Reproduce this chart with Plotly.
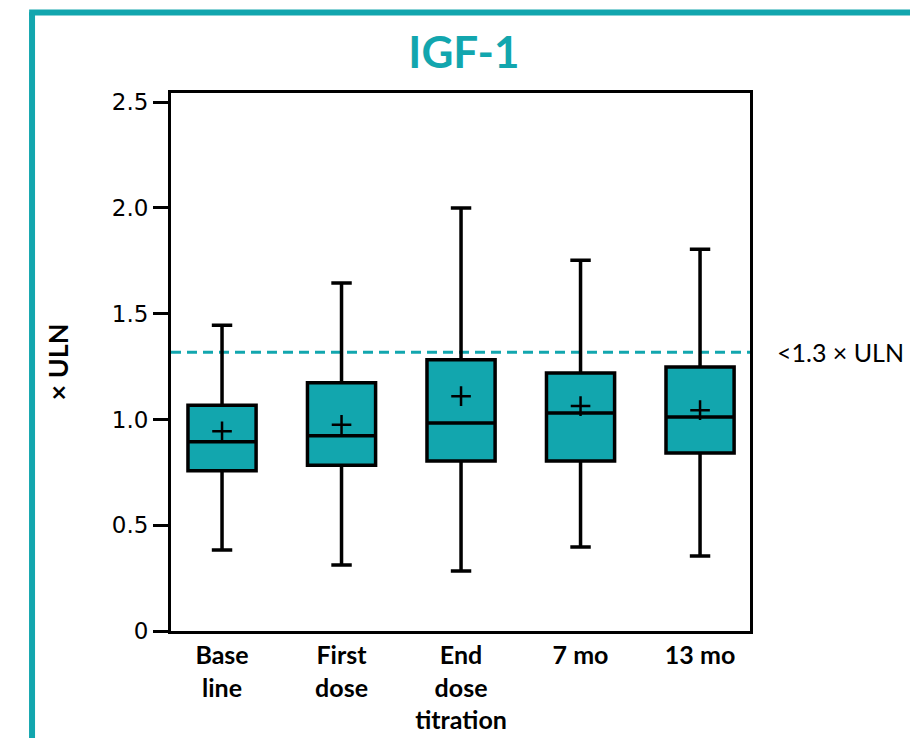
import plotly.graph_objects as go

categories = ["Base<br>line", "First<br>dose", "End<br>dose<br>titration", "7 mo", "13 mo"]
q1 = [0.757, 0.784, 0.803, 0.803, 0.841]
median = [0.895, 0.923, 0.983, 1.030, 1.011]
q3 = [1.067, 1.174, 1.282, 1.219, 1.248]
lower = [0.383, 0.312, 0.284, 0.397, 0.354]
upper = [1.445, 1.645, 2.000, 1.753, 1.805]
means = [0.944, 0.975, 1.110, 1.063, 1.044]
threshold = 1.317
threshold_label = "<1.3 × ULN"
yticks = [0, 0.5, 1.0, 1.5, 2.0, 2.5]
yticklabels = ["0", "0.5", "1.0", "1.5", "2.0", "2.5"]

TEAL = "#12A6AE"
FONT = "Lato, Open Sans, Arial"
xs = list(range(len(categories)))

fig = go.Figure()
fig.add_trace(go.Box(
    x=xs, q1=q1, median=median, q3=q3, lowerfence=lower, upperfence=upper,
    fillcolor=TEAL, line=dict(color="black", width=3.5), width=0.57,
    whiskerwidth=0.3, boxpoints=False, hoverinfo="skip", showlegend=False,
))
fig.add_trace(go.Scatter(
    x=xs, y=means, mode="markers",
    marker=dict(symbol="cross-thin", size=14, line=dict(color="black", width=2.5)),
    showlegend=False, hoverinfo="skip",
))

fig.add_shape(type="line", xref="paper", yref="y", x0=0, x1=1, y0=threshold, y1=threshold,
              line=dict(color=TEAL, width=3, dash="10px,6px"), layer="below")
# outer teal frame
fig.add_shape(type="line", xref="paper", yref="paper", x0=-0.240, x1=-0.240, y0=1.15, y1=-0.3,
              line=dict(color=TEAL, width=6))
fig.add_shape(type="line", xref="paper", yref="paper", x0=-0.245, x1=1.35, y0=1.1496, y1=1.1496,
              line=dict(color=TEAL, width=6))

fig.add_annotation(xref="paper", yref="y", x=1.043, y=threshold, text=threshold_label,
                   showarrow=False, xanchor="left", yanchor="middle",
                   font=dict(family=FONT, size=25, color="black"))

fig.update_layout(
    width=918, height=738,
    margin=dict(l=163, r=176, t=85, b=115),
    paper_bgcolor="white", plot_bgcolor="white",
    title=dict(text="<b>IGF-1</b>", x=0.506, xref="paper", xanchor="center", y=0.939, yanchor="middle",
               font=dict(family=FONT, size=44, color=TEAL)),
    xaxis=dict(range=[-0.427, 4.418], tickmode="array", tickvals=xs, ticktext=[f"<b>{c}</b>" for c in categories],
               showline=True, linecolor="black", linewidth=3, mirror=True, showgrid=False, zeroline=False,
               ticks="", tickfont=dict(family=FONT, size=25, color="black")),
    yaxis=dict(range=[0, 2.543], tickmode="array", tickvals=yticks, ticktext=yticklabels,
               showline=True, linecolor="black", linewidth=3, mirror=True, showgrid=False, zeroline=False,
               ticks="outside", ticklen=15, tickwidth=3, tickcolor="black",
               tickfont=dict(family="DejaVu Sans", size=23, color="black"),
               title=dict(text="<b>× ULN</b>", standoff=36,
                          font=dict(family=FONT, size=27, color="black"))),
)

fig.write_html("out.html")
